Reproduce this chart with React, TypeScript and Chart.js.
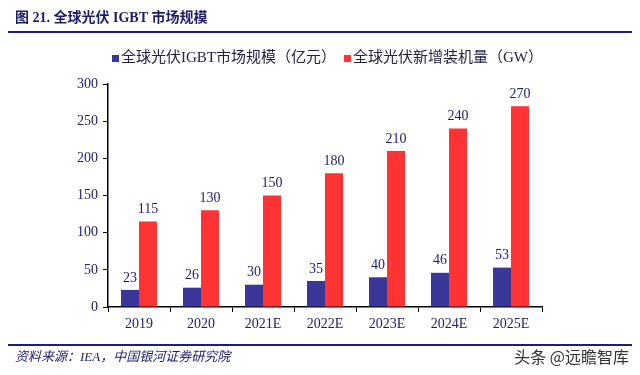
import React, { useEffect, useRef } from "react";
import { Chart, registerables } from "chart.js";

Chart.register(...registerables);

const categories = ["2019", "2020", "2021E", "2022E", "2023E", "2024E", "2025E"];
const igbtMarket = [23, 26, 30, 35, 40, 46, 53];
const pvInstall = [115, 130, 150, 180, 210, 240, 270];
const yTickValues = [0, 50, 100, 150, 200, 250, 300];
const seriesNames = ["全球光伏IGBT市场规模（亿元）", "全球光伏新增装机量（GW）"];
const titleText = "图 21. 全球光伏 IGBT 市场规模";
const sourceText = "资料来源：IEA，中国银河证券研究院";
const watermarkText = "头条 @远瞻智库";

const NAVY = "#1c1c6b";
const BLUE = "#3b3799";
const RED = "#ff3333";
const SERIF = "'Liberation Serif', 'Noto Sans CJK SC', serif";

const decorPlugin = {
  id: "decor",
  afterDraw(chart: any) {
    const ctx = chart.ctx;
    ctx.save();
    // title
    ctx.fillStyle = NAVY;
    ctx.font = `bold 14px ${SERIF}`;
    ctx.textBaseline = "middle";
    ctx.textAlign = "left";
    ctx.fillText(titleText, 15, 18);
    // rules
    ctx.strokeStyle = "#1e1e7a";
    ctx.lineWidth = 2;
    ctx.beginPath();
    ctx.moveTo(8, 32);
    ctx.lineTo(632, 32);
    ctx.moveTo(8, 345);
    ctx.lineTo(632, 345);
    ctx.stroke();
    // legend
    ctx.font = `15px ${SERIF}`;
    const legendX = [112, 344];
    chart.data.datasets.forEach((ds: any, i: number) => {
      ctx.fillStyle = ds.backgroundColor;
      ctx.fillRect(legendX[i], 55, 7, 7);
      ctx.fillStyle = "#222244";
      ctx.fillText(ds.label, legendX[i] + 9, 58);
    });
    // source
    ctx.font = `italic 13px ${SERIF}`;
    ctx.fillStyle = NAVY;
    ctx.fillText(sourceText, 15, 358);
    // watermark
    ctx.font = `16px 'Noto Sans CJK SC', sans-serif`;
    ctx.fillStyle = "#333333";
    ctx.textAlign = "right";
    ctx.fillText(watermarkText, 629, 357);
    ctx.restore();
  },
  afterDatasetsDraw(chart: any) {
    const ctx = chart.ctx;
    ctx.save();
    ctx.font = `14px ${SERIF}`;
    ctx.fillStyle = NAVY;
    ctx.textAlign = "center";
    ctx.textBaseline = "bottom";
    chart.data.datasets.forEach((ds: any, di: number) => {
      const meta = chart.getDatasetMeta(di);
      meta.data.forEach((el: any, i: number) => {
        ctx.fillText(String(ds.data[i]), el.x, el.y - 5);
      });
    });
    ctx.restore();
  },
};

export default function App() {
  const ref = useRef<HTMLCanvasElement | null>(null);
  useEffect(() => {
    if (!ref.current) return;
    const chart = new Chart(ref.current, {
      type: "bar",
      data: {
        labels: categories,
        datasets: [
          { label: seriesNames[0], data: igbtMarket, backgroundColor: BLUE, categoryPercentage: 0.58, barPercentage: 1 },
          { label: seriesNames[1], data: pvInstall, backgroundColor: RED, categoryPercentage: 0.58, barPercentage: 1 },
        ],
      },
      options: {
        animation: false,
        responsive: false,
        devicePixelRatio: 1,
        layout: { padding: { left: 58, right: 98, top: 84, bottom: 38 } },
        plugins: { legend: { display: false }, tooltip: { enabled: false }, title: { display: false } },
        scales: {
          x: {
            grid: { offset: true, drawOnChartArea: false, drawTicks: true, tickLength: 5, color: "#000", lineWidth: 1 },
            border: { display: true, color: "#000", width: 1.5 },
            ticks: { color: NAVY, font: { family: SERIF, size: 14 }, padding: 4 },
            afterFit: (s: any) => { s.height = 30; },
          },
          y: {
            min: 0,
            max: 300,
            afterBuildTicks: (s: any) => { s.ticks = yTickValues.map((v) => ({ value: v })); },
            grid: { drawOnChartArea: false, drawTicks: true, tickLength: 5, color: "#000", lineWidth: 1 },
            border: { display: true, color: "#000", width: 1.5 },
            ticks: { color: NAVY, font: { family: SERIF, size: 14 }, padding: 5 },
            afterFit: (s: any) => { s.width = 50; },
          },
        },
      },
      plugins: [decorPlugin],
    });
    return () => chart.destroy();
  }, []);
  return (
    <div style={{ position: "absolute", left: 0, top: 0, width: 640, height: 375, background: "#fff" }}>
      <canvas ref={ref} width={640} height={375} />
    </div>
  );
}
